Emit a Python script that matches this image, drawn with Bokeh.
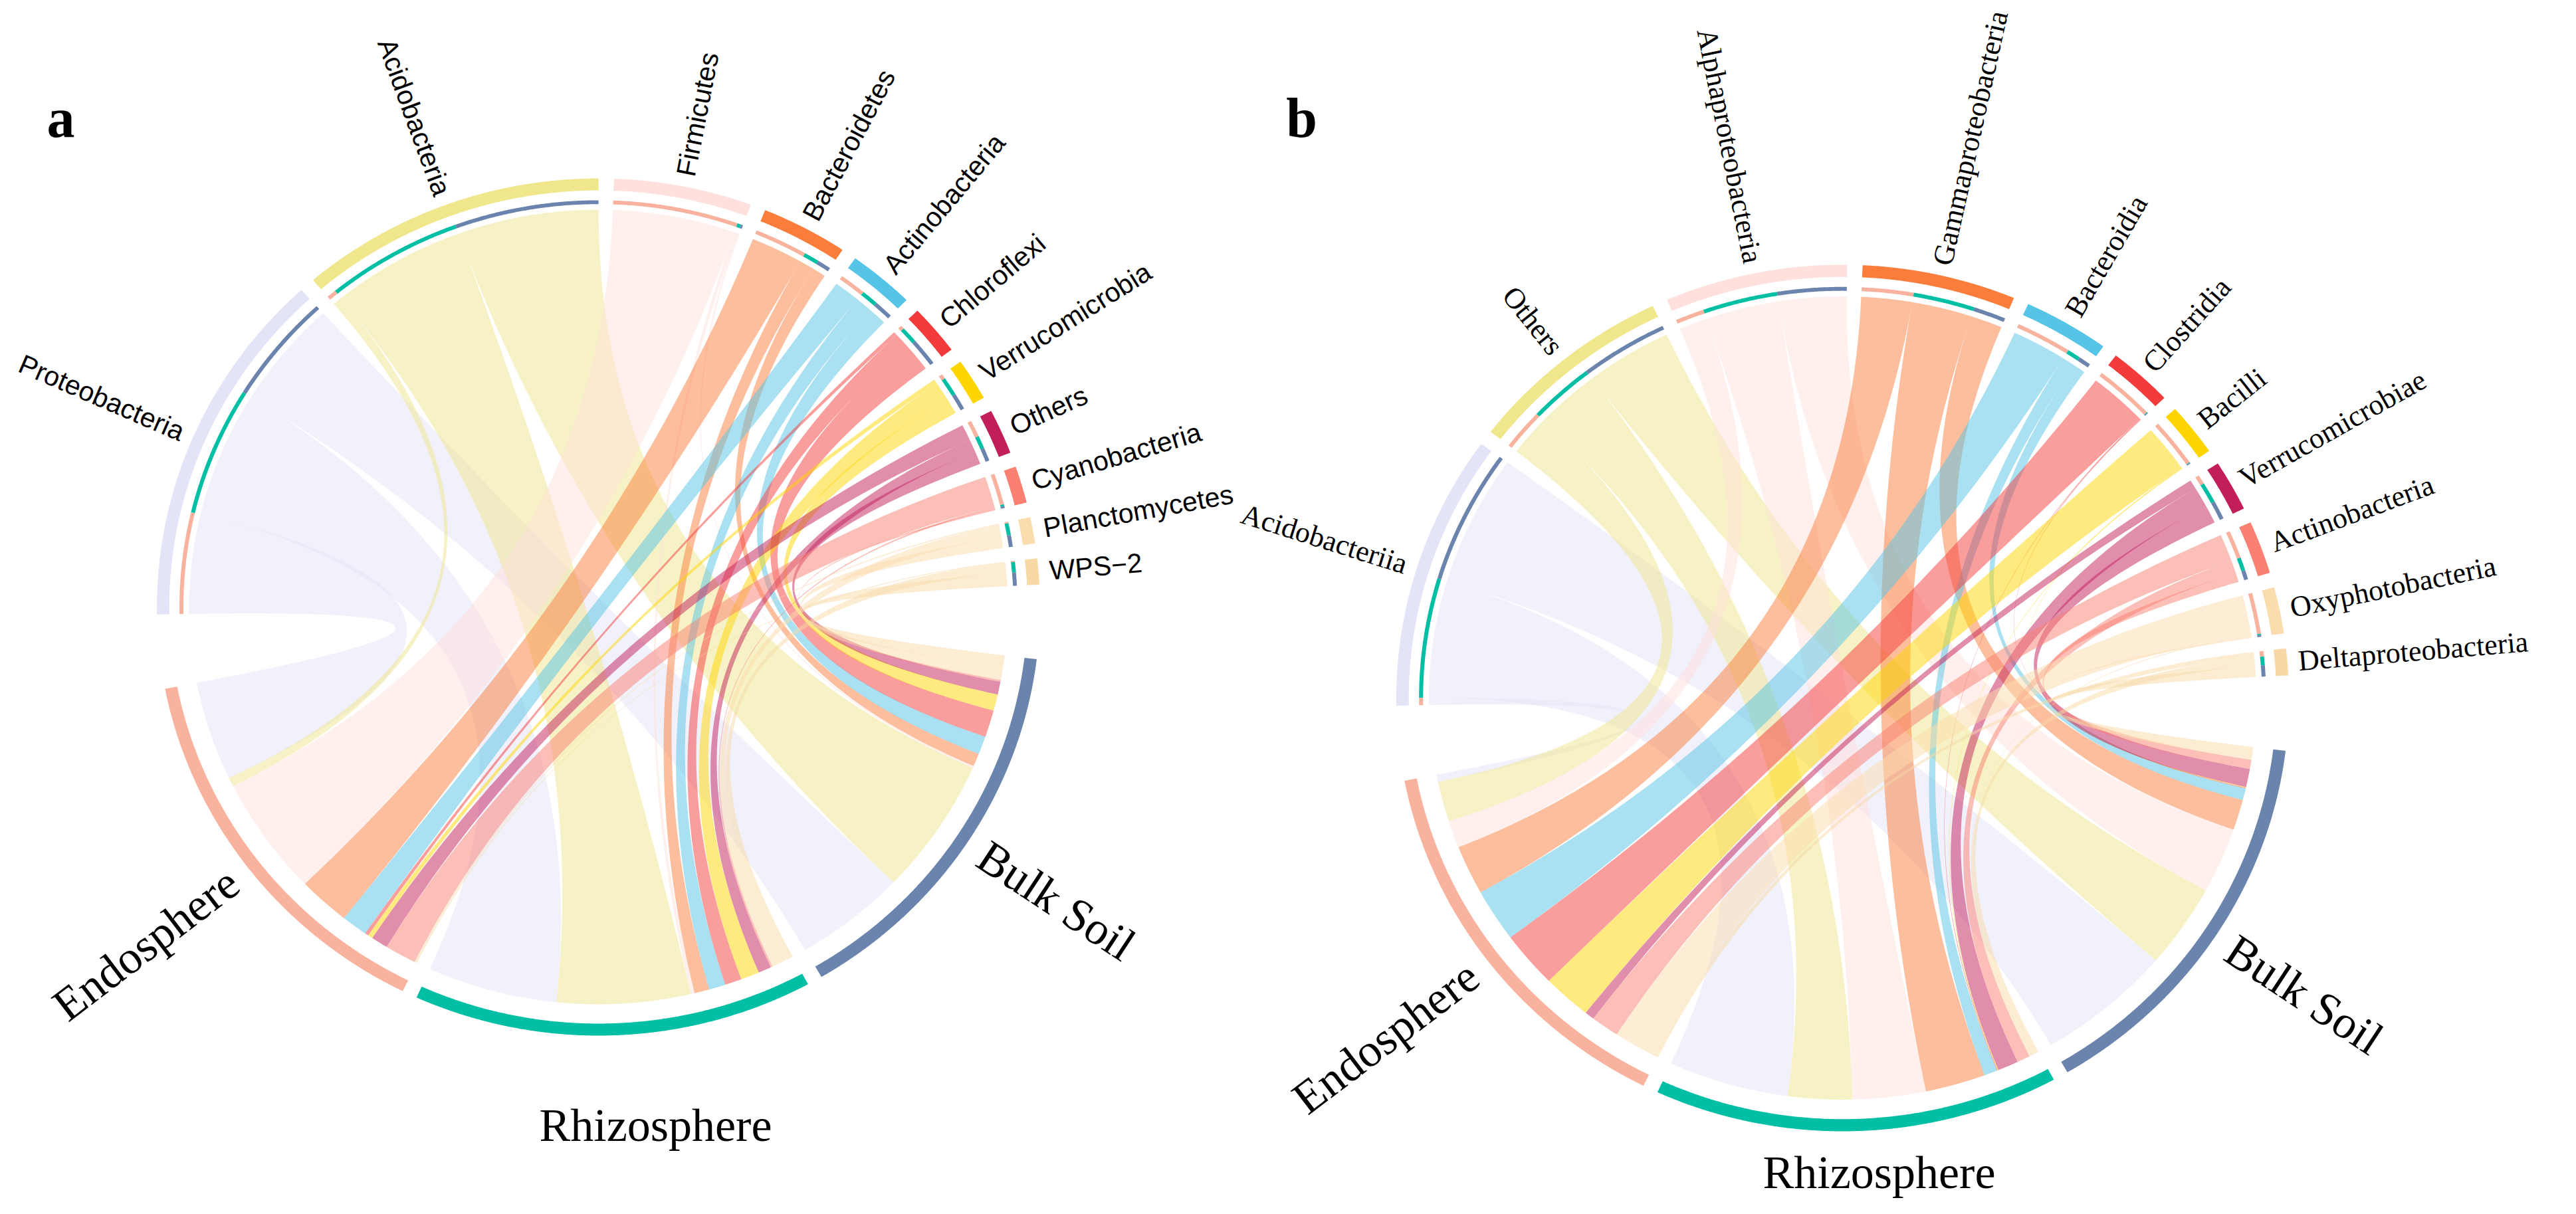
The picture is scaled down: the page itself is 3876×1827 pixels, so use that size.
import numpy as np
from bokeh.plotting import figure
from bokeh.models import Range1d
from bokeh.embed import file_html
from bokeh.resources import INLINE
from bokeh.core.properties import value

W, H = 3860, 1811
PAGE_H = 1827
SX = 1.03  # slight horizontal stretch seen in the reference

# ---------------- data ----------------
compartments = ["Endosphere", "Rhizosphere", "Bulk Soil"]
comp_colors = ["#F8B29E", "#00BFA5", "#6A84AE"]

taxa_colors = ["#E4E4F8", "#F0E68C", "#FFE0DC", "#FA7D3C", "#55C4E6", "#F43B3B",
               "#FFD500", "#C21E5A", "#FA8072", "#FBDCAC", "#F8D9A5"]

a_taxa = ["Proteobacteria", "Acidobacteria", "Firmicutes", "Bacteroidetes",
          "Actinobacteria", "Chloroflexi", "Verrucomicrobia", "Others",
          "Cyanobacteria", "Planctomycetes", "WPS\u22122"]
a_endo = [27.5, 2.5, 33.0, 14.0, 7.0, 1.0, 1.3, 4.5, 8.5, 0.4, 0.3]
a_rhizo = [35.0, 36.0, 1.0, 4.0, 4.5, 4.5, 5.0, 3.5, 0.5, 3.2, 2.8]
a_bulk = [30.0, 38.0, 0.5, 3.6, 5.0, 7.5, 4.5, 3.6, 0.5, 3.2, 3.6]

b_taxa = ["Acidobacteriia", "Others", "Alphaproteobacteria", "Gammaproteobacteria",
          "Bacteroidia", "Clostridia", "Bacilli", "Verrucomicrobiae",
          "Actinobacteria", "Oxyphotobacteria", "Deltaproteobacteria"]
b_endo = [2.0, 11.0, 7.5, 13.5, 14.5, 15.5, 13.0, 2.5, 7.5, 11.0, 1.5]
b_rhizo = [32.0, 17.0, 19.5, 16.0, 3.5, 0.2, 0.2, 5.5, 3.5, 0.3, 2.3]
b_bulk = [36.0, 23.0, 18.0, 8.4, 3.2, 0.2, 0.2, 5.0, 2.5, 0.5, 3.0]


# ---------------- geometry helpers ----------------
def arc(cx, cy, r, a1, a2):
    n = max(3, int(abs(a2 - a1) * 4) + 1)
    t = np.radians(np.linspace(a1, a2, n))
    return cx + SX * r * np.cos(t), cy + r * np.sin(t)


def band(cx, cy, r_in, r_out, a1, a2):
    xo, yo = arc(cx, cy, r_out, a1, a2)
    xi, yi = arc(cx, cy, r_in, a2, a1)
    return list(np.concatenate([xo, xi])), list(np.concatenate([yo, yi]))


def bez(p0, p2, c, n=80):
    t = np.linspace(0, 1, n)
    x = (1 - t) ** 2 * p0[0] + 2 * (1 - t) * t * c[0] + t ** 2 * p2[0]
    y = (1 - t) ** 2 * p0[1] + 2 * (1 - t) * t * c[1] + t ** 2 * p2[1]
    return x, y


def pol(cx, cy, r, deg):
    t = np.radians(deg)
    return cx + SX * r * np.cos(t), cy + r * np.sin(t)


p = figure(width=W, height=H, x_range=Range1d(8, 8 + W),
           y_range=Range1d(PAGE_H - 8 - H, PAGE_H - 8),
           output_backend="svg", toolbar_location=None, min_border=0)
p.axis.visible = False
p.grid.visible = False
p.outline_line_color = None
p.background_fill_color = "white"

COMP_FONT = "70px"


def chord_panel(cx, cy, R1, taxa, endo, rhizo, bulk, taxa_font, taxa_size,
                rhizo_off, rhizo_dx, start=181.0, big_gap=10.0, small_gap=2.0):
    vals = np.array([endo, rhizo, bulk]).T  # taxa x compartments
    n = len(taxa)
    total = vals.sum()
    avail = 360.0 - 2 * big_gap - (n - 1 + 2) * small_gap
    unit = avail / (2 * total)
    R2 = R1 * 0.972
    T1 = R1 * 0.949
    T2 = R1 * 0.940
    RC = R1 * 0.927

    # taxa sectors (clockwise)
    cur = start
    tax_sec = []
    for i in range(n):
        s = cur
        e = s - vals[i].sum() * unit
        tax_sec.append((s, e))
        cur = e - small_gap
    cur = cur + small_gap - big_gap
    # compartments clockwise: Bulk, Rhizo, Endo
    comp_sec = {}
    for c in [2, 1, 0]:
        s = cur
        e = s - vals[:, c].sum() * unit
        comp_sec[c] = (s, e)
        cur = e - small_gap

    # link positions
    tax_pos = {}
    for i in range(n):
        s = tax_sec[i][0]
        for c in [0, 1, 2]:
            e = s - vals[i, c] * unit
            tax_pos[(i, c)] = (s, e)
            s = e
    comp_pos = {}
    for c in [0, 1, 2]:
        s = comp_sec[c][0]
        for i in reversed(range(n)):
            e = s - vals[i, c] * unit
            comp_pos[(i, c)] = (s, e)
            s = e

    # chords
    xs, ys, cols = [], [], []
    for i in range(n):
        for c in [0, 1, 2]:
            if vals[i, c] <= 0:
                continue
            p1, p2 = tax_pos[(i, c)]
            q1, q2 = comp_pos[(i, c)]
            ax, ay = arc(cx, cy, RC, p1, p2)
            b1x, b1y = bez(pol(cx, cy, RC, p2), pol(cx, cy, RC, q1), (cx, cy))
            qx, qy = arc(cx, cy, RC, q1, q2)
            b2x, b2y = bez(pol(cx, cy, RC, q2), pol(cx, cy, RC, p1), (cx, cy))
            xs.append(list(np.concatenate([ax, b1x, qx, b2x])))
            ys.append(list(np.concatenate([ay, b1y, qy, b2y])))
            cols.append(taxa_colors[i])
    p.patches(xs, ys, fill_color=cols, fill_alpha=0.5, line_color=None)

    # outer rings
    rx, ry, rc = [], [], []
    for i in range(n):
        bx, by = band(cx, cy, R2, R1, *tax_sec[i])
        rx.append(bx); ry.append(by); rc.append(taxa_colors[i])
        for c in [0, 1, 2]:
            if vals[i, c] <= 0:
                continue
            bx, by = band(cx, cy, T2, T1, *tax_pos[(i, c)])
            rx.append(bx); ry.append(by); rc.append(comp_colors[c])
    for c in [0, 1, 2]:
        bx, by = band(cx, cy, R2, R1, *comp_sec[c])
        rx.append(bx); ry.append(by); rc.append(comp_colors[c])
    p.patches(rx, ry, fill_color=rc, line_color=None)

    # taxa labels
    lx, ly, lt, la = [], [], [], []
    rxl, ryl, rtl, ral = [], [], [], []
    for i in range(n):
        mid = 0.5 * (tax_sec[i][0] + tax_sec[i][1])
        x, y = pol(cx, cy, R1 + 16, mid)
        if mid > 90:
            rxl.append(x); ryl.append(y); rtl.append(taxa[i]); ral.append(np.radians(mid - 180))
        else:
            lx.append(x); ly.append(y); lt.append(taxa[i]); la.append(np.radians(mid))
    p.text(lx, ly, text=lt, angle=la, text_align="left", text_baseline="middle",
           text_font=value(taxa_font), text_font_size=taxa_size, text_color="black")
    p.text(rxl, ryl, text=rtl, angle=ral, text_align="right", text_baseline="middle",
           text_font=value(taxa_font), text_font_size=taxa_size, text_color="black")

    # compartment labels
    me = 0.5 * (comp_sec[0][0] + comp_sec[0][1])
    mb = 0.5 * (comp_sec[2][0] + comp_sec[2][1])
    x, y = pol(cx, cy, R1 + 26, me)
    p.text([x], [y], text=[compartments[0]], angle=[np.radians(me + 180)],
           text_align="right", text_baseline="middle",
           text_font=value("Liberation Serif"), text_font_size=COMP_FONT, text_color="black")
    x, y = pol(cx, cy, R1 + 26, mb)
    p.text([x], [y], text=[compartments[2]], angle=[np.radians(mb)],
           text_align="left", text_baseline="middle",
           text_font=value("Liberation Serif"), text_font_size=COMP_FONT, text_color="black")
    p.text([cx + rhizo_dx], [cy - R1 - rhizo_off], text=[compartments[1]], angle=[0],
           text_align="center", text_baseline="middle",
           text_font=value("Liberation Serif"), text_font_size=COMP_FONT, text_color="black")


chord_panel(908, PAGE_H - 921, 645, a_taxa, a_endo, a_rhizo, a_bulk,
            "Liberation Sans", "41px", rhizo_off=135, rhizo_dx=86)
chord_panel(2780, PAGE_H - 1058, 652, b_taxa, b_endo, b_rhizo, b_bulk,
            "Liberation Serif", "44px", rhizo_off=62, rhizo_dx=55)

p.text([99], [PAGE_H - 185], text=["a"], text_align="center", text_baseline="middle",
       text_font=value("Liberation Serif"), text_font_style="bold",
       text_font_size="84px", text_color="black")
p.text([1966], [PAGE_H - 185], text=["b"], text_align="center", text_baseline="middle",
       text_font=value("Liberation Serif"), text_font_style="bold",
       text_font_size="84px", text_color="black")

open("out.html", "w").write(file_html(p, INLINE))
